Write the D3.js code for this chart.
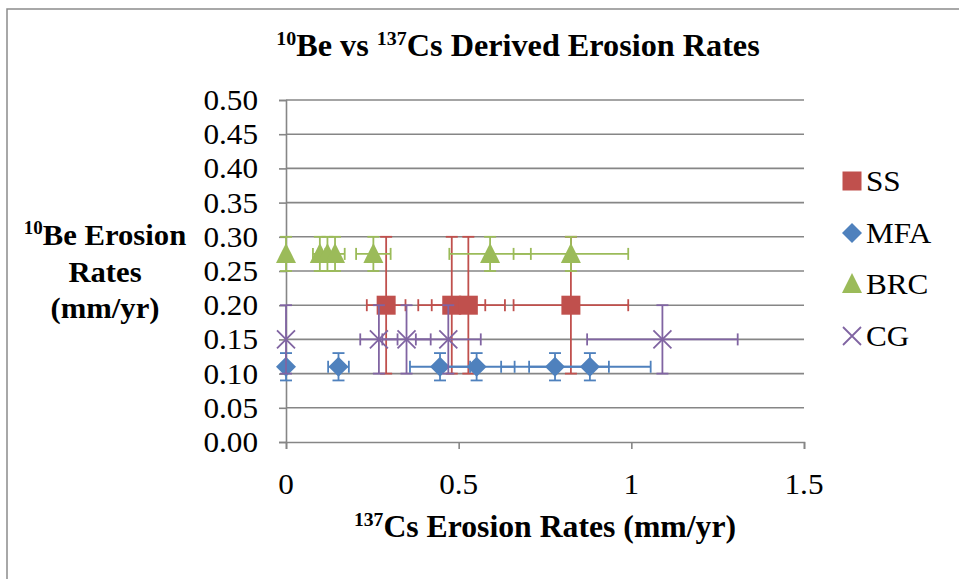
<!DOCTYPE html>
<html>
<head>
<meta charset="utf-8">
<script src="https://cdn.jsdelivr.net/npm/d3@7"></script>
<style>
    body { margin: 0; background: #fff; }
    svg { display: block; }
    text { font-family: "Liberation Serif", "Times New Roman", serif; fill: #000; }
</style>
</head>
<body>
<svg id="chart"></svg>
<script>
// series values (x = 137Cs rate, y = 10Be rate, errors are +/-)
const series_names = ['SS', 'MFA', 'BRC', 'CG'];
const series_colors = ['#C0504D', '#4F81BD', '#9BBB59', '#8064A2'];

const ss_x = [0.29, 0.48, 0.528, 0.825];
const ss_y = [0.20, 0.20, 0.20, 0.20];
const ss_xerr = [0.056, 0.097, 0.106, 0.166];
const ss_yerr = [0.10, 0.10, 0.10, 0.10];

const mfa_x = [0, 0.152, 0.446, 0.552, 0.779, 0.88];
const mfa_y = [0.11, 0.11, 0.11, 0.11, 0.11, 0.11];
const mfa_xerr = [0, 0.03, 0.087, 0.11, 0.156, 0.176];
const mfa_yerr = [0.02, 0.02, 0.02, 0.02, 0.02, 0.02];

const brc_x = [0, 0.098, 0.12, 0.142, 0.253, 0.591, 0.825];
const brc_y = [0.275, 0.275, 0.275, 0.275, 0.275, 0.275, 0.275];
const brc_xerr = [0, 0.02, 0.024, 0.028, 0.05, 0.118, 0.166];
const brc_yerr = [0.025, 0.025, 0.025, 0.025, 0.025, 0.025, 0.025];

const cg_x = [0, 0.269, 0.349, 0.47, 1.09];
const cg_y = [0.15, 0.15, 0.15, 0.15, 0.15];
const cg_xerr = [0, 0.054, 0.07, 0.094, 0.218];
const cg_yerr = [0.05, 0.05, 0.05, 0.05, 0.05];

const x_ticks = [0, 0.5, 1, 1.5];
const x_tick_labels = ['0', '0.5', '1', '1.5'];
const y_ticks = [0, 0.05, 0.10, 0.15, 0.20, 0.25, 0.30, 0.35, 0.40, 0.45, 0.50];

const zip = (xs, ys, xe, ye) => xs.map((x, i) => ({ x: x, y: ys[i], xerr: xe[i], yerr: ye[i] }));
const data = [
    zip(ss_x, ss_y, ss_xerr, ss_yerr),
    zip(mfa_x, mfa_y, mfa_xerr, mfa_yerr),
    zip(brc_x, brc_y, brc_xerr, brc_yerr),
    zip(cg_x, cg_y, cg_xerr, cg_yerr)
];

const W = 959, H = 579;
const plot = { left: 286, right: 804, top: 100, bottom: 442 };
const grid_color = '#868686';
const stretch = 1.04;   // the source text is a touch wider than Times

const svg = d3.select('#chart').attr('width', W).attr('height', H);

const xscale = d3.scaleLinear().domain([0, 1.5]).range([plot.left, plot.right]);
const yscale = d3.scaleLinear().domain([0, 0.5]).range([plot.bottom, plot.top]);

// outer frame
svg.append('path')
    .attr('d', `M7,${H} L7,9 L${W},9`)
    .attr('fill', 'none')
    .attr('stroke', '#8c8c8c')
    .attr('stroke-width', 1.5);

// text helper: anchored text, stretched horizontally
function label(x, y, anchor, size, bold) {
    const g = svg.append('g').attr('transform', `translate(${x},${y}) scale(${stretch},1)`);
    return g.append('text')
        .attr('text-anchor', anchor)
        .style('font-size', size + 'px')
        .style('font-weight', bold ? 'bold' : 'normal');
}
// adds "sup" as a superscript followed by normal text
function sup(t, s, rest) {
    t.append('tspan').attr('dy', -11).style('font-size', '0.62em').text(s);
    t.append('tspan').attr('dy', 11).text(rest);
    return t;
}

// title
{
    const t = label(518, 56, 'middle', 31, true);
    sup(t, '10', 'Be vs ');
    sup(t, '137', 'Cs Derived Erosion Rates');
}

// gridlines
svg.append('g').selectAll('line')
    .data(y_ticks.filter(v => v > 0))
    .join('line')
    .attr('x1', plot.left).attr('x2', plot.right)
    .attr('y1', d => yscale(d)).attr('y2', d => yscale(d))
    .attr('stroke', grid_color).attr('stroke-width', 1.6);

// axes
const yaxis = d3.axisLeft(yscale).tickValues(y_ticks).tickSize(7).tickFormat('');
const xaxis = d3.axisBottom(xscale).tickValues(x_ticks).tickSize(7).tickFormat('');
const yg = svg.append('g').attr('transform', `translate(${plot.left},0)`).call(yaxis);
const xg = svg.append('g').attr('transform', `translate(0,${plot.bottom})`).call(xaxis);
[yg, xg].forEach(g => {
    g.select('.domain').attr('stroke', grid_color).attr('stroke-width', 1.6);
    g.selectAll('.tick line').attr('stroke', grid_color).attr('stroke-width', 1.6);
});

y_ticks.forEach(v => label(258, yscale(v) + 10, 'end', 30, false).text(d3.format('.2f')(v)));
x_ticks.forEach((v, i) => label(xscale(v), 494, 'middle', 30, false).text(x_tick_labels[i]));

// axis titles
sup(label(545, 537, 'middle', 30.5, true), '137', 'Cs Erosion Rates (mm/yr)');
sup(label(105, 245, 'middle', 29.5, true), '10', 'Be Erosion');
label(105, 282, 'middle', 29.5, true).text('Rates');
label(105, 318, 'middle', 29.5, true).text('(mm/yr)');

// marker drawing
function marker(g, k, color) {
    if (k === 0) {
        g.append('rect').attr('x', -9.5).attr('y', -9.5).attr('width', 19).attr('height', 19).attr('fill', color);
    } else if (k === 1) {
        g.append('path').attr('d', 'M0,-10 L10,0 L0,10 L-10,0 Z').attr('fill', color);
    } else if (k === 2) {
        g.append('path').attr('d', 'M0,-11 L10,9 L-10,9 Z').attr('fill', color);
    } else {
        g.append('path').attr('d', 'M-9,-9 L9,9 M-9,9 L9,-9')
            .attr('stroke', color).attr('stroke-width', 1.8).attr('fill', 'none');
    }
}

const cap = 6;
data.forEach((pts, k) => {
    const color = series_colors[k];
    const layer = svg.append('g');
    const bars = layer.append('g').attr('stroke', color).attr('stroke-width', 1.8).attr('fill', 'none');
    pts.forEach(d => {
        const cx = xscale(d.x), cy = yscale(d.y);
        if (d.xerr > 0) {
            const x0 = xscale(d.x - d.xerr), x1 = xscale(d.x + d.xerr);
            bars.append('line').attr('x1', x0).attr('x2', x1).attr('y1', cy).attr('y2', cy);
            bars.append('line').attr('x1', x0).attr('x2', x0).attr('y1', cy - cap).attr('y2', cy + cap);
            bars.append('line').attr('x1', x1).attr('x2', x1).attr('y1', cy - cap).attr('y2', cy + cap);
        }
        const y0 = yscale(d.y - d.yerr), y1 = yscale(d.y + d.yerr);
        bars.append('line').attr('x1', cx).attr('x2', cx).attr('y1', y0).attr('y2', y1);
        bars.append('line').attr('x1', cx - cap).attr('x2', cx + cap).attr('y1', y0).attr('y2', y0);
        bars.append('line').attr('x1', cx - cap).attr('x2', cx + cap).attr('y1', y1).attr('y2', y1);
    });
    pts.forEach(d => {
        marker(layer.append('g').attr('transform', `translate(${xscale(d.x)},${yscale(d.y)})`), k, color);
    });
});

// legend
const legend_y = [181, 233, 284, 336];
series_names.forEach((name, k) => {
    marker(svg.append('g').attr('transform', `translate(852,${legend_y[k]})`), k, series_colors[k]);
    label(866, legend_y[k] + 10, 'start', 30, false).text(name);
});
</script>
</body>
</html>
